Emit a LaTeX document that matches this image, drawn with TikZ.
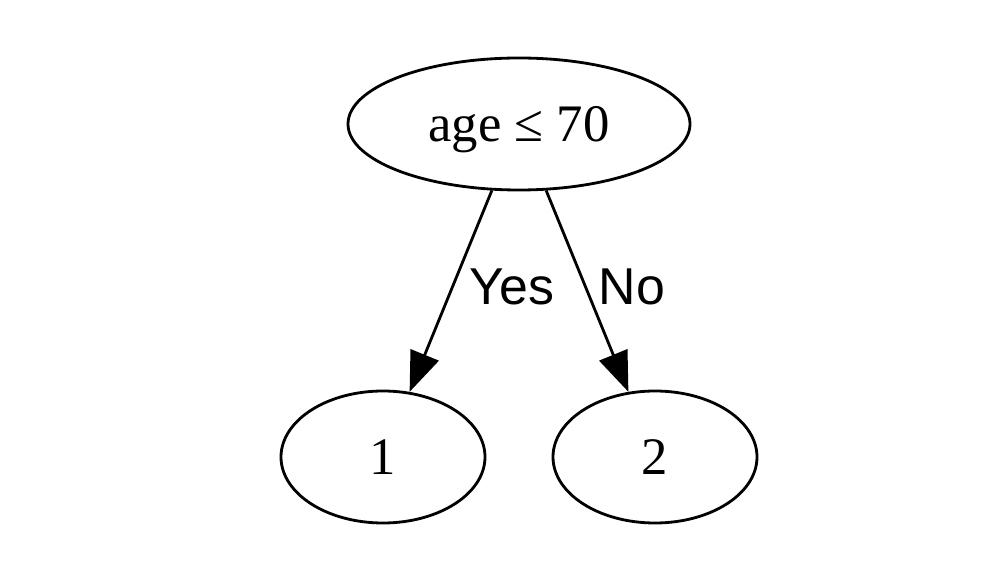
\documentclass[tikz,border=0pt]{standalone}
\usepackage{fontspec}
\setmainfont{Liberation Serif}
\setsansfont{Liberation Sans}
\usetikzlibrary{shapes.geometric,arrows.meta}

\begin{document}
\begin{tikzpicture}[
      split/.style={draw,ellipse,line width=1.6pt,inner sep=0pt,
         minimum width=6.84cm,minimum height=2.64cm,
         text depth=0pt,font=\fontsize{30}{36}\selectfont},
      leaf/.style={split,minimum width=4.08cm},
      answer/.style={inner sep=0pt,font=\sffamily\fontsize{29.5}{35}\selectfont},
      branch/.style={line width=1.6pt,-{Triangle[length=0.8cm,width=0.6cm]}}]
            \useasboundingbox (0,0) rectangle (20,11.6);

            \node [split] (age) at (10.38,9.12) {age ≤ 70};
            \node [leaf] (one) at (7.66,2.46) {1};
            \node [leaf] (two) at (13.10,2.46) {2};

            \draw [branch] (age) -- (one);
            \draw [branch] (age) -- (two);

            \node [answer] (yes) at (10.24,5.86) {Yes};
            \node [answer] (no) at (12.64,5.86) {No};
         \end{tikzpicture}
\end{document}
